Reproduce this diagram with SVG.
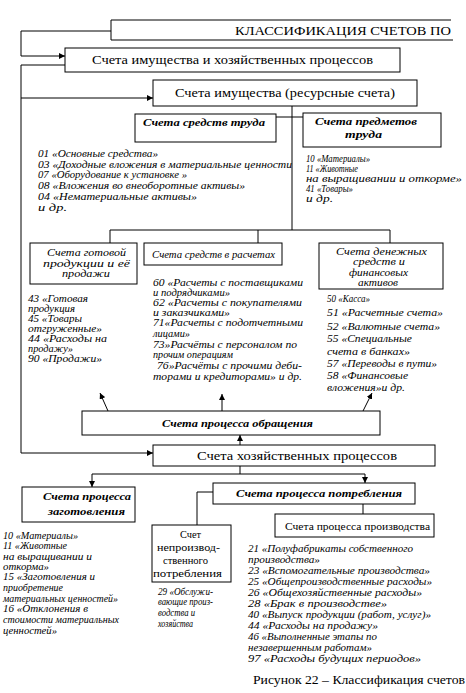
<svg xmlns="http://www.w3.org/2000/svg" width="466" height="693" viewBox="0 0 466 693" font-family="'Liberation Serif', 'DejaVu Serif', serif">
<style>
.box{fill:#fff;stroke:#000;stroke-width:1}
.ln{fill:none;stroke:#000;stroke-width:1}
text{font-family:'Liberation Serif','DejaVu Serif',serif;fill:#000}
.t{font-size:13px}
.bi{font-size:11px;font-weight:bold;font-style:italic}
.i{font-size:10.5px;font-style:italic}
.l{font-size:10px;font-style:italic}
.s{font-size:9.5px;font-style:italic}
.r{font-size:11px}
.cap{font-size:12.5px}
</style>
<defs>
<marker id="ah" viewBox="0 0 6 6" refX="6" refY="3" markerWidth="6" markerHeight="6" markerUnits="userSpaceOnUse" orient="auto">
<path d="M0,0 L6,3 L0,6 z" fill="#000"/>
</marker>
</defs>
<rect width="466" height="693" fill="#fff"/>

<g id="connectors">
<path class="ln" d="M111,31 H21 V56 H65" marker-end="url(#ah)"/>
<path class="ln" d="M65,65 H21 V453 H153" marker-end="url(#ah)"/>
<path class="ln" d="M21,98 H153" marker-end="url(#ah)"/>
<path class="ln" d="M292,106 V230"/>
<path class="ln" d="M276,117 H303"/>
<path class="ln" d="M110,243 V230 H390 V243 M258,230 V243"/>
<path class="ln" d="M108,411 L100,393" marker-end="url(#ah)"/>
<path class="ln" d="M222,411 V394" marker-end="url(#ah)"/>
<path class="ln" d="M363,411 L372,393" marker-end="url(#ah)"/>
<path class="ln" d="M240,445 V435" marker-end="url(#ah)"/>
<path class="ln" d="M240,466 V474"/>
<path class="ln" d="M92,474 H365"/>
<path class="ln" d="M92,474 V487" marker-end="url(#ah)"/>
<path class="ln" d="M365,474 V483" marker-end="url(#ah)"/>
<path class="ln" d="M213,492 H197 V525"/>
<path class="ln" d="M363,504 V514"/>
</g>

<g id="title">
<path class="ln" d="M451,20 H111 V40 H453"/>
<text class="t" x="235" y="35" textLength="216" lengthAdjust="spacingAndGlyphs">КЛАССИФИКАЦИЯ СЧЕТОВ ПО</text>
</g>

<g id="n-imush-hoz">
<rect class="box" x="65" y="48" width="335" height="24"/>
<text class="t" x="92" y="64" textLength="281" lengthAdjust="spacingAndGlyphs">Счета имущества и хозяйственных процессов</text>
</g>

<g id="n-imush">
<rect class="box" x="153" y="80" width="264" height="26"/>
<text class="t" x="175" y="97" textLength="220" lengthAdjust="spacingAndGlyphs">Счета имущества (ресурсные счета)</text>
</g>

<g id="n-sredstv-truda">
<rect class="box" x="135" y="114" width="141" height="28"/>
<text class="bi" x="143" y="126" textLength="122" lengthAdjust="spacingAndGlyphs">Счета средств труда</text>
</g>

<g id="n-predmetov-truda">
<rect class="box" x="303" y="113" width="138" height="34"/>
<text class="bi" x="315" y="125" textLength="102" lengthAdjust="spacingAndGlyphs">Счета предметов</text>
<text class="bi" x="345" y="138" textLength="37" lengthAdjust="spacingAndGlyphs">труда</text>
</g>

<g id="list-sredstv-truda" class="i">
<text x="38" y="157" textLength="120" lengthAdjust="spacingAndGlyphs">01 «Основные средства»</text>
<text x="38" y="168" textLength="254" lengthAdjust="spacingAndGlyphs">03 «Доходные вложения в материальные ценности</text>
<text x="38" y="178" textLength="149" lengthAdjust="spacingAndGlyphs">07 «Оборудование к установке »</text>
<text x="38" y="189" textLength="207" lengthAdjust="spacingAndGlyphs">08 «Вложения во внеоборотные активы»</text>
<text x="38" y="200" textLength="159" lengthAdjust="spacingAndGlyphs">04 «Нематериальные активы»</text>
<text x="38" y="211" textLength="29" lengthAdjust="spacingAndGlyphs">и др.</text>
</g>

<g id="list-predmetov-truda" class="s">
<text x="306" y="162" textLength="64" lengthAdjust="spacingAndGlyphs">10 «Материалы»</text>
<text x="306" y="172" textLength="52" lengthAdjust="spacingAndGlyphs">11 «Животные</text>
<text x="306" y="182" textLength="156" lengthAdjust="spacingAndGlyphs">на выращивании и откорме»</text>
<text x="306" y="192" textLength="47" lengthAdjust="spacingAndGlyphs">41 «Товары»</text>
<text x="306" y="202" textLength="27" lengthAdjust="spacingAndGlyphs">и др.</text>
</g>

<g id="n-gotovoy">
<rect class="box" x="30" y="243" width="107" height="41"/>
<text class="i" x="47" y="256" textLength="79" lengthAdjust="spacingAndGlyphs">Счета готовой</text>
<text class="i" x="43" y="267" textLength="87" lengthAdjust="spacingAndGlyphs">продукции и  её</text>
<text class="i" x="62" y="277" textLength="48" lengthAdjust="spacingAndGlyphs">продажи</text>
</g>

<g id="n-raschetah">
<rect class="box" x="144" y="243" width="138" height="22"/>
<text class="i" x="152" y="258" textLength="123" lengthAdjust="spacingAndGlyphs">Счета средств в расчетах</text>
</g>

<g id="n-denezhnyh">
<rect class="box" x="319" y="243" width="124" height="46"/>
<text class="i" x="336" y="255" textLength="91" lengthAdjust="spacingAndGlyphs">Счета денежных</text>
<text class="i" x="353" y="265" textLength="52" lengthAdjust="spacingAndGlyphs">средств и</text>
<text class="i" x="349" y="276" textLength="59" lengthAdjust="spacingAndGlyphs">финансовых</text>
<text class="i" x="358" y="286" textLength="40" lengthAdjust="spacingAndGlyphs">активов</text>
</g>

<g id="list-gotovoy" class="l">
<text x="28" y="302" textLength="60" lengthAdjust="spacingAndGlyphs">43 «Готовая</text>
<text x="28" y="312" textLength="47" lengthAdjust="spacingAndGlyphs">продукция</text>
<text x="28" y="322" textLength="54" lengthAdjust="spacingAndGlyphs">45 «Товары</text>
<text x="28" y="332" textLength="74" lengthAdjust="spacingAndGlyphs">отгруженные»</text>
<text x="28" y="342" textLength="79" lengthAdjust="spacingAndGlyphs">44 «Расходы на</text>
<text x="28" y="352" textLength="45" lengthAdjust="spacingAndGlyphs">продажу»</text>
<text x="28" y="362" textLength="74" lengthAdjust="spacingAndGlyphs">90 «Продажи»</text>
</g>

<g id="list-raschetah" class="l">
<text x="153" y="286" textLength="150" lengthAdjust="spacingAndGlyphs">60 «Расчеты с поставщиками</text>
<text x="153" y="296" textLength="77" lengthAdjust="spacingAndGlyphs">и подрядчиками»</text>
<text x="153" y="306" textLength="149" lengthAdjust="spacingAndGlyphs">62 «Расчеты с покупателями</text>
<text x="153" y="316" textLength="77" lengthAdjust="spacingAndGlyphs">и заказчиками»</text>
<text x="153" y="326" textLength="150" lengthAdjust="spacingAndGlyphs">71«Расчеты с подотчетными</text>
<text x="153" y="337" textLength="37" lengthAdjust="spacingAndGlyphs">лицами»</text>
<text x="153" y="348" textLength="144" lengthAdjust="spacingAndGlyphs">73»Расчёты с персоналом по</text>
<text x="153" y="358" textLength="80" lengthAdjust="spacingAndGlyphs">прочим операциям</text>
<text x="157" y="369" textLength="145" lengthAdjust="spacingAndGlyphs">76»Расчёты с прочими деби-</text>
<text x="153" y="380" textLength="149" lengthAdjust="spacingAndGlyphs">торами и кредиторами» и др.</text>
</g>

<g id="list-denezhnyh" class="i">
<text x="327" y="302" textLength="43" lengthAdjust="spacingAndGlyphs">50 «Касса»</text>
<text x="327" y="316" textLength="116" lengthAdjust="spacingAndGlyphs">51 «Расчетные счета»</text>
<text x="327" y="330" textLength="113" lengthAdjust="spacingAndGlyphs">52 «Валютные счета»</text>
<text x="327" y="342" textLength="85" lengthAdjust="spacingAndGlyphs">55 «Специальные</text>
<text x="327" y="355" textLength="83" lengthAdjust="spacingAndGlyphs">счета в банках»</text>
<text x="327" y="367" textLength="110" lengthAdjust="spacingAndGlyphs">57 «Переводы в пути»</text>
<text x="327" y="379" textLength="81" lengthAdjust="spacingAndGlyphs">58 «Финансовые</text>
<text x="327" y="391" textLength="78" lengthAdjust="spacingAndGlyphs">вложения»и др.</text>
</g>

<g id="n-obrascheniya">
<rect class="box" x="82" y="411" width="298" height="24"/>
<text class="bi" x="162" y="427" textLength="151" lengthAdjust="spacingAndGlyphs">Счета процесса обращения</text>
</g>

<g id="n-hoz-processov">
<rect class="box" x="153" y="445" width="282" height="21"/>
<text class="t" x="197" y="460" textLength="200" lengthAdjust="spacingAndGlyphs">Счета хозяйственных процессов</text>
</g>

<g id="n-zagotovleniya">
<rect class="box" x="22" y="487" width="113" height="35"/>
<text class="bi" x="43" y="500" textLength="88" lengthAdjust="spacingAndGlyphs">Счета процесса</text>
<text class="bi" x="48" y="515" textLength="77" lengthAdjust="spacingAndGlyphs">заготовления</text>
</g>

<g id="n-potrebleniya">
<rect class="box" x="213" y="483" width="202" height="21"/>
<text class="bi" x="236" y="497" textLength="166" lengthAdjust="spacingAndGlyphs">Счета процесса потребления</text>
</g>

<g id="n-proizvodstva">
<rect class="box" x="275" y="514" width="159" height="23"/>
<text class="r" x="285" y="530" textLength="145" lengthAdjust="spacingAndGlyphs">Счета процесса производства</text>
</g>

<g id="n-neproizv">
<rect class="box" x="152" y="525" width="79" height="57"/>
<text class="r" x="180" y="538" textLength="21" lengthAdjust="spacingAndGlyphs">Счет</text>
<text class="r" x="157" y="551" textLength="63" lengthAdjust="spacingAndGlyphs">непроизвод-</text>
<text class="r" x="163" y="564" textLength="45" lengthAdjust="spacingAndGlyphs">ственного</text>
<text class="r" x="153" y="577" textLength="69" lengthAdjust="spacingAndGlyphs">потребления</text>
</g>

<g id="list-zagotovleniya" class="l">
<text x="3" y="539" textLength="75" lengthAdjust="spacingAndGlyphs">10 «Материалы»</text>
<text x="3" y="549" textLength="64" lengthAdjust="spacingAndGlyphs">11 «Животные</text>
<text x="3" y="560" textLength="89" lengthAdjust="spacingAndGlyphs">на выращивании и</text>
<text x="3" y="570" textLength="46" lengthAdjust="spacingAndGlyphs">откорма»</text>
<text x="3" y="580" textLength="92" lengthAdjust="spacingAndGlyphs">15 «Заготовления и</text>
<text x="3" y="591" textLength="60" lengthAdjust="spacingAndGlyphs">приобретение</text>
<text x="3" y="602" textLength="115" lengthAdjust="spacingAndGlyphs">материальных ценностей»</text>
<text x="3" y="612" textLength="85" lengthAdjust="spacingAndGlyphs">16 «Отклонения в</text>
<text x="3" y="623" textLength="116" lengthAdjust="spacingAndGlyphs">стоимости материальных</text>
<text x="3" y="634" textLength="54" lengthAdjust="spacingAndGlyphs">ценностей»</text>
</g>

<g id="list-neproizv" class="l">
<text x="158" y="595" textLength="55" lengthAdjust="spacingAndGlyphs">29 «Обслужи-</text>
<text x="158" y="605" textLength="55" lengthAdjust="spacingAndGlyphs">вающие произ-</text>
<text x="158" y="616" textLength="37" lengthAdjust="spacingAndGlyphs">водства и</text>
<text x="158" y="627" textLength="35" lengthAdjust="spacingAndGlyphs">хозяйства</text>
</g>

<g id="list-proizvodstva" class="l">
<text x="248" y="552" textLength="165" lengthAdjust="spacingAndGlyphs">21 «Полуфабрикаты собственного</text>
<text x="248" y="563" textLength="72" lengthAdjust="spacingAndGlyphs">производства»</text>
<text x="248" y="574" textLength="182" lengthAdjust="spacingAndGlyphs">23 «Вспомогательные производства»</text>
<text x="248" y="585" textLength="184" lengthAdjust="spacingAndGlyphs">25 «Общепроизводственные расходы»</text>
<text x="248" y="596" textLength="174" lengthAdjust="spacingAndGlyphs">26 «Общехозяйственные расходы»</text>
<text x="248" y="607" textLength="139" lengthAdjust="spacingAndGlyphs">28 «Брак в производстве»</text>
<text x="248" y="618" textLength="183" lengthAdjust="spacingAndGlyphs">40 «Выпуск продукции (работ, услуг)»</text>
<text x="248" y="629" textLength="130" lengthAdjust="spacingAndGlyphs">44 «Расходы на продажу»</text>
<text x="248" y="640" textLength="129" lengthAdjust="spacingAndGlyphs">46 «Выполненные этапы по</text>
<text x="248" y="651" textLength="124" lengthAdjust="spacingAndGlyphs">незавершенным работам»</text>
<text x="248" y="662" textLength="173" lengthAdjust="spacingAndGlyphs">97 «Расходы будущих периодов»</text>
</g>

<g id="caption">
<text class="cap" x="253" y="684" textLength="212" lengthAdjust="spacingAndGlyphs">Рисунок 22 – Классификация счетов</text>
</g>
</svg>
